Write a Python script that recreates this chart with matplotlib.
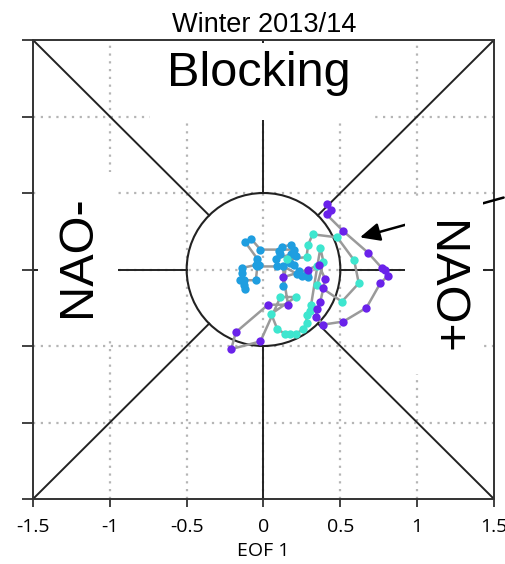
import numpy as np
import matplotlib
matplotlib.use("Agg")
import matplotlib.pyplot as plt
from matplotlib.patches import Circle, Rectangle

# ---- data (EOF1, EOF2) trajectories ----
blue_x = [0.11, 0.10, 0.12, 0.18, 0.20, -0.02, -0.08, -0.12, -0.04, -0.03, -0.05, -0.14, -0.14, -0.15,
          -0.13, -0.12, -0.13, -0.05, -0.04, 0.09, 0.08, 0.18, 0.21, 0.17, 0.20, 0.23, 0.25, 0.29, 0.28,
          0.22, 0.13, 0.13]
blue_y = [0.10, 0.12, 0.15, 0.16, 0.13, 0.13, 0.20, 0.18, 0.07, 0.03, 0.03, 0.01, -0.02, -0.07,
          -0.10, -0.13, -0.07, -0.07, 0.02, 0.02, 0.07, 0.10, 0.09, 0.04, 0.03, -0.01, -0.04, -0.05, -0.03,
          -0.03, 0.02, -0.11]
cyan_x = [0.15, 0.28, 0.29, 0.32, 0.48, 0.59, 0.62, 0.51, 0.35, 0.39, 0.37, 0.35, 0.31, 0.30, 0.28,
          0.28, 0.26, 0.21, 0.17, 0.14, 0.09, 0.05, 0.21, 0.11]
cyan_y = [0.07, 0.08, 0.16, 0.23, 0.21, 0.06, -0.09, -0.21, -0.10, 0.05, 0.14, 0.02, -0.23, -0.27, -0.30,
          -0.35, -0.39, -0.42, -0.42, -0.42, -0.39, -0.29, -0.18, -0.18]
purple_x = [-0.02, -0.21, -0.18, 0.03, 0.16, 0.13, 0.29, 0.36, 0.40, 0.39, 0.37, 0.35, 0.34, 0.39, 0.52,
            0.67, 0.76, 0.81, 0.79, 0.77, 0.68, 0.52, 0.41, 0.44, 0.41]
purple_y = [-0.47, -0.52, -0.41, -0.23, -0.23, -0.05, 0.00, 0.03, -0.06, -0.12, -0.21, -0.26, -0.31, -0.36, -0.34,
            -0.25, -0.09, -0.04, 0.00, 0.01, 0.11, 0.25, 0.36, 0.39, 0.43]

xticks = [-1.5, -1, -0.5, 0, 0.5, 1, 1.5]
xticklabels = ["-1.5", "-1", "-0.5", "0", "0.5", "1", "1.5"]
grid_vals = [-1, -0.5, 0, 0.5, 1]
title = "Winter 2013/14"
regions = ["Blocking", "NAO-", "NAO+"]

c_blue = "#1f9ee0"
c_cyan = "#3ee6cf"
c_purple = "#6a22ea"

fig = plt.figure(figsize=(5.06, 5.64), dpi=100)
ax = fig.add_axes([33/506, 1-499/564, 461/506, 459/564])
ax.set_xlim(-1.5, 1.5)
ax.set_ylim(-1.5, 1.5)

# dotted grid
for g in grid_vals:
    ax.plot([g, g], [-1.5, 1.5], color="#b5b5b5", ls=(0, (1, 2.5)), lw=1.6, zorder=1)
    ax.plot([-1.5, 1.5], [g, g], color="#b5b5b5", ls=(0, (1, 2.5)), lw=1.6, zorder=1)

# circle and sector lines
ax.add_patch(Circle((0, 0), 0.5, fill=False, ec="#222222", lw=1.5, zorder=2))
r = 0.5
d = r / np.sqrt(2)
for sx in (-1, 1):
    for sy in (-1, 1):
        ax.plot([sx*d, sx*1.5], [sy*d, sy*1.5], color="#222222", lw=1.4, zorder=2)
ax.plot([r, 1.5], [0, 0], color="#222222", lw=1.4, zorder=2)
ax.plot([-r, -1.5], [0, 0], color="#222222", lw=1.4, zorder=2)
ax.plot([0, 0], [r, 1.5], color="#222222", lw=1.4, zorder=2)
ax.plot([0, 0], [-r, -1.5], color="#222222", lw=1.4, zorder=2)

# arrow
ax.annotate("", xy=(0.61, 0.205), xytext=(1.58, 0.475),
            arrowprops=dict(arrowstyle="-|>,head_length=1.2,head_width=0.55", color="black", lw=1.8),
            annotation_clip=False, zorder=3)

# white masks behind the region labels
for (x0, x1, y0, y1) in [(-0.74, 0.69, 0.98, 1.48), (-1.47, -0.95, -0.44, 0.64), (0.92, 1.43, -0.68, 0.46)]:
    ax.add_patch(Rectangle((x0, y0), x1 - x0, y1 - y0, facecolor="white", edgecolor="none", zorder=3.5))

# trajectory
all_x = blue_x + cyan_x + purple_x
all_y = blue_y + cyan_y + purple_y
ax.plot(all_x, all_y, color="#9a9a9a", lw=1.8, zorder=4)
ax.plot(blue_x, blue_y, "o", color=c_blue, ms=6, mew=0, zorder=5)
ax.plot(cyan_x, cyan_y, "o", color=c_cyan, ms=6, mew=0, zorder=5)
ax.plot(purple_x, purple_y, "o", color=c_purple, ms=6, mew=0, zorder=5)

# region labels
fam = ["Liberation Sans", "DejaVu Sans"]
ax.text(-0.03, 1.20, regions[0], ha="center", va="baseline", fontsize=35, family=fam, zorder=6)
ax.text(-1.21, 0.09, regions[1], ha="center", va="center", rotation=90, fontsize=35, family=fam, zorder=6)
ax.text(1.175, -0.12, regions[2], ha="center", va="center", rotation=-90, fontsize=35, family=fam, zorder=6)

# axes styling
for s in ax.spines.values():
    s.set_color("#333333")
    s.set_linewidth(1.4)
ax.set_xticks(xticks)
ax.set_xticklabels(xticklabels, family="Open Sans", fontsize=14)
ax.set_yticks(xticks)
ax.set_yticklabels([])
ax.tick_params(axis="x", direction="out", length=6, width=1.3, pad=8, color="#333333")
ax.tick_params(axis="y", direction="out", length=8, width=1.3, color="#333333")
ax.set_xlabel("EOF 1", family="Open Sans", fontsize=14, labelpad=4)

fig.text(264/506, 1-32/564, title, ha="center", va="baseline", fontsize=19.5, family=fam)

fig.savefig("out.png", dpi=100)
